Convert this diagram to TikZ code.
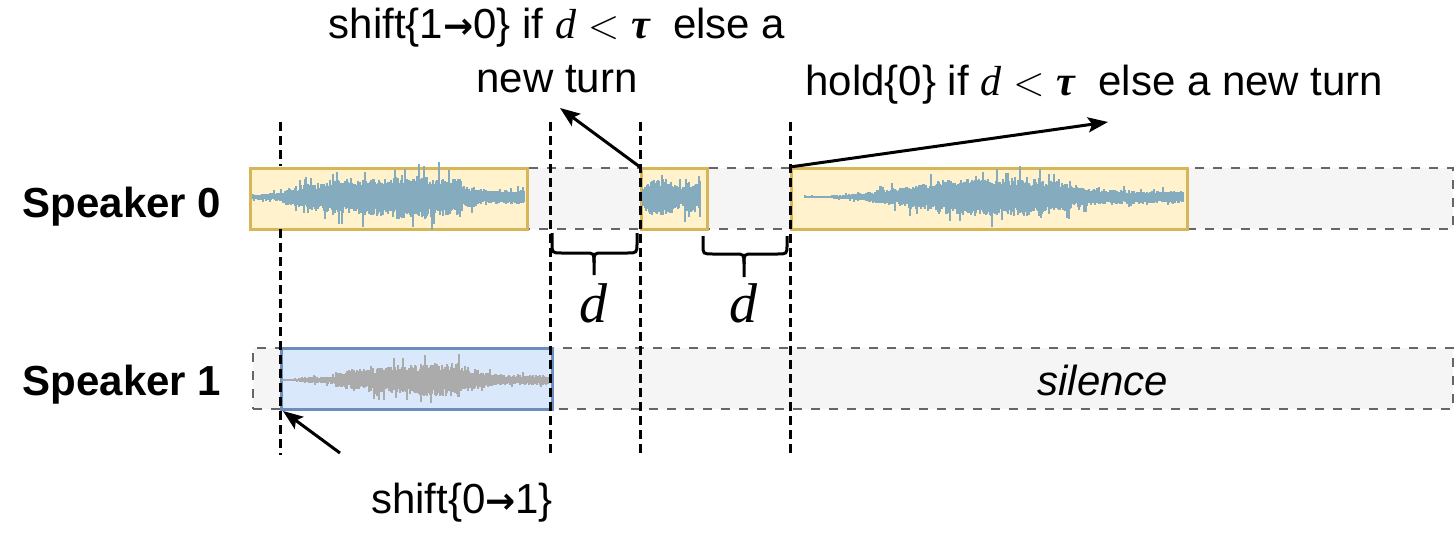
\documentclass[tikz,border=0pt]{standalone}
\usepackage{fontspec}
\setmainfont{Liberation Sans}
\newfontfamily\tms{Liberation Serif}
\newfontfamily\dvs{DejaVu Sans}
\usetikzlibrary{arrows.meta}
\definecolor{yfill}{HTML}{FFF2CC}
\definecolor{ydraw}{HTML}{D6B656}
\definecolor{bfill}{HTML}{DAE8FC}
\definecolor{bdraw}{HTML}{6C8EBF}
\definecolor{gfill}{HTML}{F5F5F5}
\definecolor{gdraw}{HTML}{666666}
\definecolor{wblue}{HTML}{85ACBE}
\definecolor{wgray}{HTML}{ABABAB}
\newcommand\mvar[1]{{\tms\itshape #1}}
\newcommand\mtau{{\tms\bfseries\itshape τ}}
\newcommand\mless{$<$}
\newcommand\rarr{{\dvs\bfseries\fontsize{18}{18}\selectfont →}}
\newcommand\wseg[5]{%
  \foreach \xx in {#1,...,#3}{%
    \pgfmathsetmacro\wa{#2+(#4-#2)*(\xx-#1)/max(1,(#3-#1))}%
    \pgfmathsetmacro\wu{\wa*(0.5+0.5*rnd)+\wa*0.6*(rnd>0.94)}%
    \pgfmathsetmacro\wd{\wa*(0.5+0.5*rnd)+\wa*0.6*(rnd>0.94)}%
    \draw (\xx,#5-\wu) -- (\xx,#5+\wd);
  }}
\tikzset{
  gbox/.style={draw=gdraw, fill=gfill, line width=1.2pt, dash pattern=on 4.5pt off 4.5pt, anchor=north west, inner sep=0pt},
  ybox/.style={draw=ydraw, fill=yfill, line width=1.5pt, anchor=north west, inner sep=0pt},
  bbox/.style={draw=bdraw, fill=bfill, line width=1.5pt, anchor=north west, inner sep=0pt},
  guide/.style={line width=1.5pt, dash pattern=on 4.5pt off 2.5pt},
  arr/.style={line width=1.5pt, -{Stealth[length=10pt, width=7.5pt, inset=2pt]}},
  brc/.style={line width=1.5pt},
  txt/.style={font=\fontsize{21}{27}\selectfont, inner sep=0pt},
  dlab/.style={font=\tms\itshape\fontsize{28}{30}\selectfont, inner sep=0pt, anchor=base},
}
\begin{document}
\begin{tikzpicture}[x=0.5pt, y=-0.5pt]
\useasboundingbox (0,0) rectangle (1455,546);
% gray background rows
\node[gbox, minimum width=601pt, minimum height=30.5pt] (row0) at (250,167) {};
\node[gbox, minimum width=600pt, minimum height=30.5pt] (row1) at (252,347) {};
% colored boxes
\node[ybox, minimum width=138.5pt, minimum height=30.5pt] (y1) at (249,167) {};
\node[ybox, minimum width=33pt, minimum height=30.5pt] (y2) at (640,167) {};
\node[ybox, minimum width=198pt, minimum height=30.5pt] (y3) at (790,167) {};
\node[bbox, minimum width=135.5pt, minimum height=30.5pt] (b1) at (280,347) {};
% guide lines
\draw[guide] (280,122) -- (280,166);
\draw[guide] (280,229) -- (280,455);
\draw[guide] (550,122) -- (550,455);
\draw[guide] (640,122) -- (640,455);
\draw[guide] (790,122) -- (790,455);
% waveforms
\begin{scope}[draw=wblue, line width=0.65pt]
\pgfmathsetseed{7}
\foreach \xa/\aa/\xb/\ab in {253/3/268/3, 269/4/284/6, 285/8/300/12, 301/13/328/15, 329/18/360/20, 361/19/395/20, 396/22/440/22, 441/20/462/18, 463/12/480/9, 481/8/500/7, 501/7/524/7}{\wseg{\xa}{\aa}{\xb}{\ab}{197}}
\foreach \xa/\aa/\xb/\ab in {643/12/648/17, 649/19/672/19, 673/13/684/11, 685/16/700/16}{\wseg{\xa}{\aa}{\xb}{\ab}{197}}
\foreach \xa/\aa/\xb/\ab in {805/1/830/1, 831/2/850/3, 851/3/875/6, 876/7/905/10, 906/12/935/15, 936/17/975/19, 976/19/1040/20, 1041/18/1070/14, 1071/11/1100/8, 1101/8/1183/6}{\wseg{\xa}{\aa}{\xb}{\ab}{197}}
\end{scope}
\begin{scope}[draw=wgray, line width=0.65pt]
\pgfmathsetseed{11}
\foreach \xa/\aa/\xb/\ab in {283/1/300/2, 301/3/335/4, 336/8/350/10, 351/11/385/13, 386/14/420/16, 421/17/460/17, 461/13/480/10, 481/8/505/6, 506/5/548/5}{\wseg{\xa}{\aa}{\xb}{\ab}{380}}
\end{scope}
% braces
\draw[brc] (552,233) -- (552,243) .. controls (552,253) .. (562,253) -- (585,253) .. controls (594,253) .. (594,263) -- (594,275);
\draw[brc] (637,233) -- (637,243) .. controls (637,253) .. (627,253) -- (603,253) .. controls (594,253) .. (594,263);
\draw[brc] (703,236) -- (703,245) .. controls (703,254) .. (713,254) -- (735,254) .. controls (744,254) .. (744,264) -- (744,277);
\draw[brc] (787,236) -- (787,245) .. controls (787,254) .. (777,254) -- (753,254) .. controls (744,254) .. (744,264);
\node[dlab] (d1) at (593,322) {d};
\node[dlab] (d2) at (743,322) {d};
% labels
\node[txt, font=\bfseries\fontsize{21}{27}\selectfont, anchor=base] (sp0) at (122,217) {Speaker 0};
\node[txt, font=\bfseries\fontsize{21}{27}\selectfont, anchor=base] (sp1) at (122,395) {Speaker 1};
\node[txt, font=\itshape\fontsize{21}{27}\selectfont, anchor=base] (sil) at (1103,395) {silence};
\node[txt, align=center] (t1) at (557,50) {shift\{1\rarr0\} if \mvar{d} \mless{} \mtau~ else a\\new turn};
\node[txt, anchor=base west] (t2) at (805,95) {hold\{0\} if \mvar{d} \mless{} \mtau~ else a new turn};
\node[txt, anchor=base] (t3) at (462,513) {shift\{0\rarr1\}};
% arrows
\coordinate (a1) at (560,108);
\coordinate (a2) at (1108,122);
\coordinate (a3s) at (340,453);
\coordinate (a3) at (283,411);
\draw[arr] (y2.north west) -- (a1);
\draw[arr] (y3.north west) -- (a2);
\draw[arr] (a3s) -- (a3);
\end{tikzpicture}
\end{document}
